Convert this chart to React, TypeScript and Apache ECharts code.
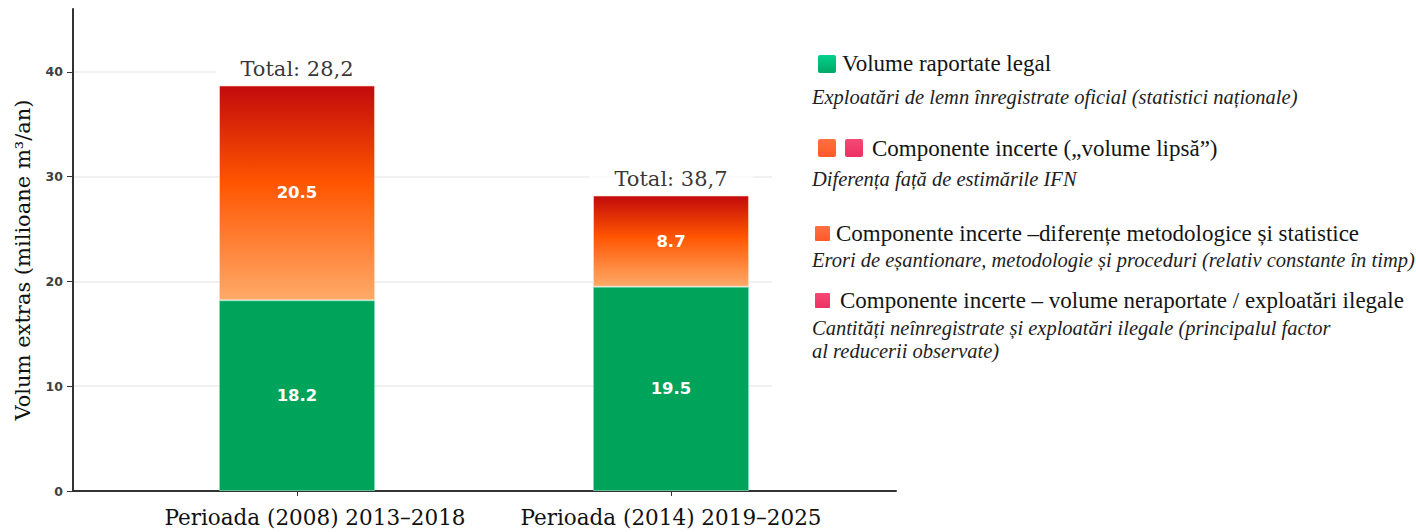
import React, { useEffect, useRef } from "react";
import * as echarts from "echarts";

const categories = ["Perioada (2008) 2013–2018", "Perioada (2014) 2019–2025"];
const legalVolumes = [18.2, 19.5];
const uncertainVolumes = [20.5, 8.7];
const totalLabels = ["Total: 28,2", "Total: 38,7"];
const yTickValues = [0, 10, 20, 30, 40];
const yMin = 0;
const yMax = 46;
const yInterval = 10;
const yAxisTitle = "Volum extras (milioane m³/an)";

const legendItems = [
  { title: "Volume raportate legal", note: ["Exploatări de lemn înregistrate oficial (statistici naționale)"] },
  { title: "Componente incerte („volume lipsă”)", note: ["Diferența față de estimările IFN"] },
  { title: "Componente incerte –diferențe metodologice și statistice", note: ["Erori de eșantionare, metodologie și proceduri (relativ constante în timp)"] },
  { title: "Componente incerte – volume neraportate / exploatări ilegale", note: ["Cantități neînregistrate și exploatări ilegale (principalul factor", "al reducerii observate)"] },
];

const SERIF = "'DejaVu Serif', serif";
const LEG = "'Liberation Serif', serif";

export default function App() {
  const ref = useRef<HTMLDivElement>(null);
  useEffect(() => {
    document.body.style.margin = "0";
    if (!ref.current) return;
    const chart = echarts.init(ref.current, undefined, { renderer: "svg" });

    const green = "#00A35A";
    const orangeGrad = new echarts.graphic.LinearGradient(0, 0, 0, 1, [
      { offset: 0, color: "#C20A0C" },
      { offset: 0.45, color: "#FF5500" },
      { offset: 1, color: "#FFAA68" },
    ]);
    const greenSq = new echarts.graphic.LinearGradient(0, 0, 0, 1, [
      { offset: 0, color: "#00D28C" },
      { offset: 1, color: "#00A866" },
    ]);
    const orangeSq = new echarts.graphic.LinearGradient(0, 0, 0, 1, [
      { offset: 0, color: "#FF7040" },
      { offset: 1, color: "#FF5A28" },
    ]);
    const pinkSq = new echarts.graphic.LinearGradient(0, 0, 0, 1, [
      { offset: 0, color: "#F44A74" },
      { offset: 1, color: "#EE3062" },
    ]);

    const titleStyle = (text: string, x: number, y: number) => ({
      type: "text",
      x,
      y,
      style: { text, fill: "#141414", font: `23px ${LEG}`, verticalAlign: "middle" },
    });
    const noteStyle = (text: string, x: number, y: number) => ({
      type: "text",
      x,
      y,
      style: { text, fill: "#1e1e1e", font: `italic 20.5px ${LEG}`, verticalAlign: "middle" },
    });

    const graphics: any[] = [
      // hide part of the 40 gridline as in the reference
      { type: "rect", z: 1, shape: { x: 216, y: 69, width: 570, height: 6 }, style: { fill: "#fff" } },
      { type: "rect", shape: { x: 818, y: 55, width: 18, height: 18, r: 2 }, style: { fill: greenSq } },
      titleStyle(legendItems[0].title, 842, 63),
      noteStyle(legendItems[0].note[0], 812, 97),
      { type: "rect", shape: { x: 818, y: 139, width: 18, height: 18, r: 2 }, style: { fill: orangeSq } },
      { type: "rect", shape: { x: 845, y: 139, width: 18, height: 18, r: 2 }, style: { fill: pinkSq } },
      titleStyle(legendItems[1].title, 872, 148),
      noteStyle(legendItems[1].note[0], 812, 179),
      { type: "rect", shape: { x: 815, y: 226, width: 15, height: 15, r: 1 }, style: { fill: orangeSq } },
      titleStyle(legendItems[2].title, 836, 233),
      noteStyle(legendItems[2].note[0], 812, 260),
      { type: "rect", shape: { x: 815, y: 293, width: 15, height: 15, r: 1 }, style: { fill: pinkSq } },
      titleStyle(legendItems[3].title, 840, 300),
      noteStyle(legendItems[3].note[0], 812, 328),
      noteStyle(legendItems[3].note[1], 812, 351),
    ];

    const totals = legalVolumes.map((v, i) => +(v + uncertainVolumes[i]).toFixed(1));

    const valueLabel = {
      show: true,
      position: "inside",
      color: "#fff",
      fontFamily: "'DejaVu Sans', sans-serif",
      fontWeight: "bold",
      fontSize: 16.5,
      formatter: (p: any) => p.value.toFixed(1),
    };

    const catLabelStyle = { color: "#111", fontFamily: SERIF, fontSize: 21.5 };

    const option: any = {
      animation: false,
      backgroundColor: "#ffffff",
      grid: [
        { left: 73, top: 9, width: 823, height: 482 },
        { left: 73, top: 9, width: 699, height: 482 },
        { left: 110, top: 9, width: 748, height: 482 },
      ],
      xAxis: [
        {
          gridIndex: 0,
          type: "category",
          data: [""],
          axisLine: { show: true, lineStyle: { color: "#333", width: 2 } },
          axisTick: { show: false },
          axisLabel: { show: false },
          splitLine: { show: false },
        },
        { gridIndex: 1, type: "category", data: [""], show: false },
        {
          gridIndex: 2,
          type: "category",
          data: categories,
          axisLine: { show: false },
          axisTick: { show: true, alignWithLabel: true, length: 5, lineStyle: { color: "#333", width: 1 } },
          axisLabel: {
            interval: 0,
            hideOverlap: false,
            margin: 15,
            ...catLabelStyle,
            formatter: (v: string, i: number) => (i === 0 ? `{shift|${v}}` : `{plain|${v}}`),
            rich: {
              shift: { ...catLabelStyle, padding: [0, 0, 0, 36] },
              plain: { ...catLabelStyle },
            },
          },
          splitLine: { show: false },
        },
      ],
      yAxis: [
        {
          gridIndex: 0,
          type: "value",
          min: yMin,
          max: yMax,
          interval: yInterval,
          axisLine: { show: true, lineStyle: { color: "#333", width: 2 } },
          axisTick: { show: true, length: 6, customValues: yTickValues, lineStyle: { color: "#333", width: 1 } },
          axisLabel: {
            customValues: yTickValues,
            color: "#404040",
            fontFamily: "'DejaVu Sans', sans-serif",
            fontWeight: "bold",
            fontSize: 12.5,
            margin: 10,
          },
          splitLine: { show: false },
          name: yAxisTitle,
          nameLocation: "middle",
          nameGap: 40,
          nameTextStyle: { color: "#111", fontFamily: SERIF, fontSize: 21, padding: [0, 20, 0, 0] },
        },
        {
          gridIndex: 1,
          type: "value",
          min: yMin,
          max: yMax,
          interval: yInterval,
          axisLine: { show: false },
          axisTick: { show: false },
          axisLabel: { show: false },
          splitLine: { show: true, showMinLine: false, showMaxLine: false, lineStyle: { color: "#ededed", width: 1.5 } },
        },
        { gridIndex: 2, type: "value", min: yMin, max: yMax, interval: yInterval, show: false, splitLine: { show: false } },
      ],
      series: [
        {
          name: "Volume raportate legal",
          type: "bar",
          xAxisIndex: 2,
          yAxisIndex: 2,
          stack: "total",
          barWidth: 156,
          data: legalVolumes,
          itemStyle: { color: green, borderColor: "rgba(120,225,190,0.7)", borderWidth: 1 },
          label: valueLabel,
        },
        {
          name: "Componente incerte",
          type: "bar",
          xAxisIndex: 2,
          yAxisIndex: 2,
          stack: "total",
          barWidth: 156,
          data: uncertainVolumes,
          itemStyle: { color: orangeGrad, borderColor: "rgba(255,220,200,0.6)", borderWidth: 1 },
          label: valueLabel,
        },
        {
          name: "Total",
          type: "scatter",
          xAxisIndex: 2,
          yAxisIndex: 2,
          symbolSize: 0,
          z: 5,
          data: totals,
          label: {
            show: true,
            position: "top",
            distance: 4,
            color: "#000",
            fontFamily: SERIF,
            fontSize: 21,
            backgroundColor: "#ffffff",
            padding: [2, 25, 2, 25],
            formatter: (p: any) => totalLabels[p.dataIndex],
          },
        },
      ],
      graphic: graphics,
    };

    chart.setOption(option);
    return () => chart.dispose();
  }, []);

  return <div ref={ref} style={{ width: 1416, height: 532 }} />;
}
